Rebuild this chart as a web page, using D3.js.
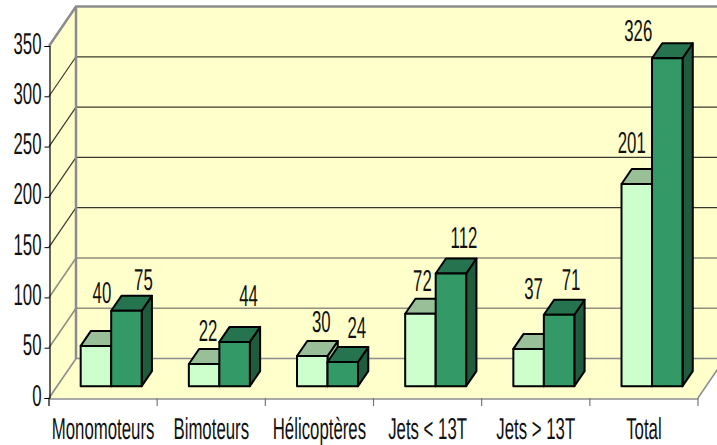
<!DOCTYPE html>
<html>
<head>
<meta charset="utf-8">
<script src="https://cdnjs.cloudflare.com/ajax/libs/d3/7.8.5/d3.min.js"></script>
<style>
  html, body { margin: 0; padding: 0; background: #fff; }
  svg { display: block; }
  text { font-family: "Liberation Sans", Arial, sans-serif; font-size: 28px; fill: #111; text-rendering: geometricPrecision; }
</style>
</head>
<body>
<svg id="chart" width="717" height="445"></svg>
<script>
var categories = ["Monomoteurs", "Bimoteurs", "Hélicoptères", "Jets < 13T", "Jets > 13T", "Total"];
var seriesA = [40, 22, 30, 72, 37, 201];
var seriesB = [75, 44, 24, 112, 71, 326];
var yTicks = [0, 50, 100, 150, 200, 250, 300, 350];

// manual label shifts, the original has hand placed data labels
var shiftA = [[1, -25], [-1, -5], [4, -6], [-3, -5], [0, -32], [-10, -13]];
var shiftB = [[12, -3], [9, -18], [9, -6], [8, -8], [7, -7], [-34, 1]];

var svg = d3.select("#chart");
var narrow = "scale(0.6,1.08)";

var y = d3.scaleLinear().domain([0, 350]).range([398, 46]);
var x = d3.scaleBand().domain(categories).range([49, 698]);
var inner = d3.scaleBand().domain(["a", "b"]).range([-30.5, 30.5]);

// depth of the 3d box
var depthX = 27, depthY = 39.5;
function pt(px, value, z) {
  return [px + z * depthX, y(value) - z * depthY];
}
function poly(pts) { return pts.map(function(p) { return p.join(","); }).join(" "); }

var right = 698;

// walls
svg.append("polygon")
    .attr("points", poly([pt(49, 0, 0), pt(49, 350, 0), pt(49, 350, 1), pt(49, 0, 1)]))
    .attr("fill", "#ffffcc");
svg.append("polygon")
    .attr("points", poly([pt(49, 0, 1), pt(49, 350, 1), pt(right, 350, 1), pt(right, 0, 1)]))
    .attr("fill", "#ffffcc");
svg.append("polygon")
    .attr("points", poly([pt(49, 0, 0), pt(49, 0, 1), pt(right, 0, 1), pt(right, 0, 0)]))
    .attr("fill", "#ffffcc");

// gridlines
yTicks.forEach(function(v) {
  var grey = v === 0 || v === 50 || v === 100 || v === 350;
  var a = pt(49, v, 0), b = pt(49, v, 1), c = pt(right, v, 1);
  svg.append("polyline")
      .attr("points", poly([a, b, c]))
      .attr("fill", "none")
      .attr("stroke", v === 0 || v === 350 ? "#8c8c8c" : (grey ? "#8f8f80" : "#3a3a30"))
      .attr("stroke-width", v === 350 ? 2.5 : (grey ? 1.6 : 1.2));
});

// back corner and floor edges
svg.append("line")
    .attr("x1", pt(49, 0, 1)[0]).attr("y1", pt(49, 0, 1)[1])
    .attr("x2", pt(49, 350, 1)[0]).attr("y2", pt(49, 350, 1)[1])
    .attr("stroke", "#8c8c8c").attr("stroke-width", 2.5);
svg.append("line")
    .attr("x1", right).attr("y1", y(0))
    .attr("x2", pt(right, 0, 1)[0]).attr("y2", pt(right, 0, 1)[1])
    .attr("stroke", "#8c8c8c").attr("stroke-width", 1.5);

// bars
var zFront = 0.3, zBack = 0.68;
function drawBar(cat, key, value, front, top, side) {
  var cx = x(cat) + x.bandwidth() / 2;
  var x0 = cx + inner(key), x1 = x0 + inner.bandwidth();
  var g = svg.append("g")
      .attr("stroke", "#000")
      .attr("stroke-width", 2)
      .attr("stroke-linejoin", "round");
  g.append("polygon")
      .attr("points", poly([pt(x1, 0, zFront), pt(x1, value, zFront), pt(x1, value, zBack), pt(x1, 0, zBack)]))
      .attr("fill", side);
  g.append("polygon")
      .attr("points", poly([pt(x0, value, zFront), pt(x0, value, zBack), pt(x1, value, zBack), pt(x1, value, zFront)]))
      .attr("fill", top);
  g.append("polygon")
      .attr("points", poly([pt(x0, 0, zFront), pt(x0, value, zFront), pt(x1, value, zFront), pt(x1, 0, zFront)]))
      .attr("fill", front);
}
categories.forEach(function(cat, i) {
  drawBar(cat, "a", seriesA[i], "#ccffcc", "#99bf99", "#99bf99");
  drawBar(cat, "b", seriesB[i], "#339966", "#267350", "#1e5c3d");
});

// axes
var yAxis = d3.axisLeft(y).tickValues(yTicks).tickSize(5).tickPadding(4);
var yG = svg.append("g").attr("transform", "translate(49.5,0)").call(yAxis);
yG.select(".domain").attr("stroke", "#000").attr("stroke-width", 1.2);
yG.selectAll("text")
    .attr("x", null).attr("dy", null)
    .attr("text-anchor", "end")
    .attr("transform", "translate(-8,7) " + narrow);

var xAxis = d3.axisBottom(x).tickSize(0).tickPadding(0);
var xG = svg.append("g").attr("transform", "translate(0,398.5)").call(xAxis);
xG.select(".domain").attr("stroke", "#8c8c8c").attr("stroke-width", 1.5);
xG.selectAll("text")
    .attr("y", null).attr("dy", null)
    .attr("text-anchor", "middle")
    .attr("transform", "translate(0,40) " + narrow);

// category separators sit between the bands
svg.append("g").selectAll("line")
    .data(categories.concat([null]))
  .join("line")
    .attr("x1", function(d, i) { return 49 + i * x.step(); })
    .attr("x2", function(d, i) { return 49 + i * x.step(); })
    .attr("y1", y(0))
    .attr("y2", y(0) + 8)
    .attr("stroke", function(d, i) { return i === 0 ? "#000" : "#777"; })
    .attr("stroke-width", 1.2);

// data labels
function drawLabels(values, key, shifts) {
  values.forEach(function(v, i) {
    var px = x(categories[i]) + x.bandwidth() / 2 + inner(key) + inner.bandwidth() / 2;
    var p = pt(px, v, zFront);
    svg.append("text")
        .attr("text-anchor", "middle")
        .attr("transform", "translate(" + (p[0] + 5 + shifts[i][0]) + "," + (p[1] - 18 + shifts[i][1]) + ") " + narrow)
        .text(v);
  });
}
drawLabels(seriesA, "a", shiftA);
drawLabels(seriesB, "b", shiftB);
</script>
</body>
</html>
